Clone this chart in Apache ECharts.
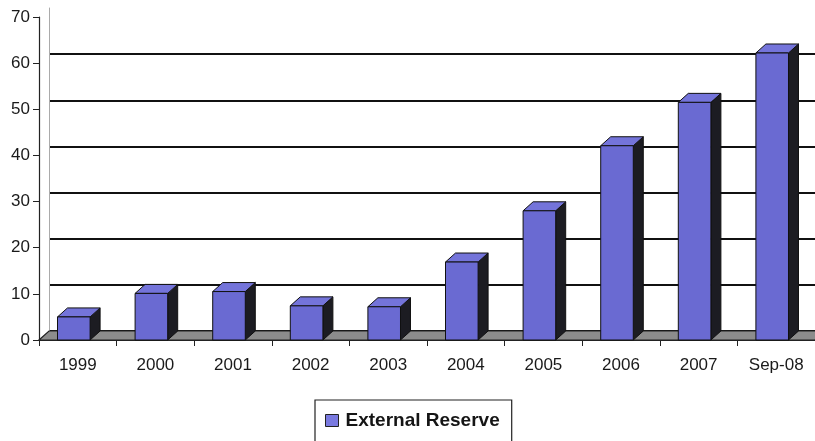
<!DOCTYPE html>
<html><head><meta charset="utf-8">
<script src="https://cdn.jsdelivr.net/npm/echarts@6/dist/echarts.min.js"></script>
<style>html,body{margin:0;padding:0;background:#fff}#c{width:815px;height:441px}</style>
</head><body><div id="c"></div>
<script>
var categories = ['1999','2000','2001','2002','2003','2004','2005','2006','2007','Sep-08'];
var reserveValues = [5.0, 10.1, 10.5, 7.4, 7.2, 16.9, 28.0, 42.1, 51.5, 62.2];
var yTicks = [0, 10, 20, 30, 40, 50, 60, 70];
var seriesName = 'External Reserve';

var DX = 10, DY = -9;
var FRONT = '#6a6ad2', TOP = '#7474da', SIDE = '#1c1c22';
var FONT = 'Liberation Sans, Arial, sans-serif';

function renderBar(params, api) {
  var xi = api.value(0), v = api.value(1);
  var base = api.coord([xi, 0]);
  var top = api.coord([xi, v]);
  var bw = api.size([1, 0])[0] * 0.42;
  var x0 = base[0] - bw / 2 - DX / 2 + 1, x1 = x0 + bw;
  var yb = base[1], yt = top[1];
  var stroke = {stroke: '#111', lineWidth: 1};
  return {
    type: 'group',
    children: [
      {type: 'polygon', shape: {points: [[x1, yb], [x1 + DX, yb + DY], [x1 + DX, yt + DY], [x1, yt]]},
        style: Object.assign({fill: SIDE}, stroke)},
      {type: 'polygon', shape: {points: [[x0, yt], [x1, yt], [x1 + DX, yt + DY], [x0 + DX, yt + DY]]},
        style: Object.assign({fill: TOP}, stroke)},
      {type: 'rect', shape: {x: x0, y: yt, width: bw, height: yb - yt},
        style: Object.assign({fill: FRONT}, stroke)}
    ]
  };
}

function renderFloor(params, api) {
  var cs = params.coordSys;
  var y0 = api.coord([0, 0])[1];
  var xl = cs.x, xr = cs.x + cs.width;
  return {
    type: 'polygon', z2: -1,
    shape: {points: [[xl, y0], [xr, y0], [xr + DX, y0 + DY], [xl + DX, y0 + DY]]},
    style: {fill: '#8c8c8c', stroke: '#222', lineWidth: 1.2}
  };
}

var chart = echarts.init(document.getElementById('c'), null, {renderer: 'canvas'});
var lineColors = yTicks.map(function (t, i) { return i === yTicks.length - 1 ? 'rgba(0,0,0,0)' : '#111'; });

chart.setOption({
  backgroundColor: '#fff',
  animation: false,
  textStyle: {fontFamily: FONT},
  grid: [
    {left: 39, right: 0, top: 17, bottom: 101},
    {left: 39 + DX, right: -DX, top: 17 + DY, bottom: 101 - DY}
  ],
  xAxis: [
    {type: 'category', gridIndex: 0, data: categories, boundaryGap: true,
      axisLine: {show: true, lineStyle: {color: '#222', width: 1.2}},
      axisTick: {show: true, length: 6, lineStyle: {color: '#222'}},
      axisLabel: {color: '#1a1a1a', fontSize: 17, margin: 17, fontFamily: FONT}},
    {type: 'category', gridIndex: 1, data: categories, show: false}
  ],
  yAxis: [
    {type: 'value', gridIndex: 0, min: 0, max: 70, interval: 10,
      axisLine: {show: true, lineStyle: {color: '#222', width: 1.2}},
      axisTick: {show: true, length: 6, lineStyle: {color: '#222'}},
      splitLine: {show: false},
      axisLabel: {color: '#1a1a1a', fontSize: 17, margin: 9, fontFamily: FONT}},
    {type: 'value', gridIndex: 1, min: 0, max: 70, interval: 10,
      axisLine: {show: true, lineStyle: {color: '#aaa', width: 1}},
      axisTick: {show: false}, axisLabel: {show: false},
      splitLine: {show: true, lineStyle: {color: lineColors, width: 2}}}
  ],
  legend: {
    left: 315, top: 400,
    padding: [11, 12, 30, 10],
    borderColor: '#222', borderWidth: 1.2, borderRadius: 0,
    itemWidth: 13, itemHeight: 12, itemGap: 6,
    textStyle: {fontSize: 19, fontWeight: 'bold', color: '#151515', fontFamily: FONT, padding: [0, 0, 0, 2]},
    data: [{name: seriesName, icon: 'rect', itemStyle: {color: '#7a7ae0', borderColor: '#222', borderWidth: 1}}]
  },
  series: [
    {type: 'custom', name: 'floor', xAxisIndex: 0, yAxisIndex: 0, renderItem: renderFloor,
      data: [[0, 0]], z: 1, silent: true},
    {type: 'custom', name: seriesName, xAxisIndex: 0, yAxisIndex: 0, renderItem: renderBar,
      itemStyle: {color: FRONT}, z: 3,
      data: reserveValues.map(function (v, i) { return [i, v]; })}
  ]
});
</script>
</body></html>
